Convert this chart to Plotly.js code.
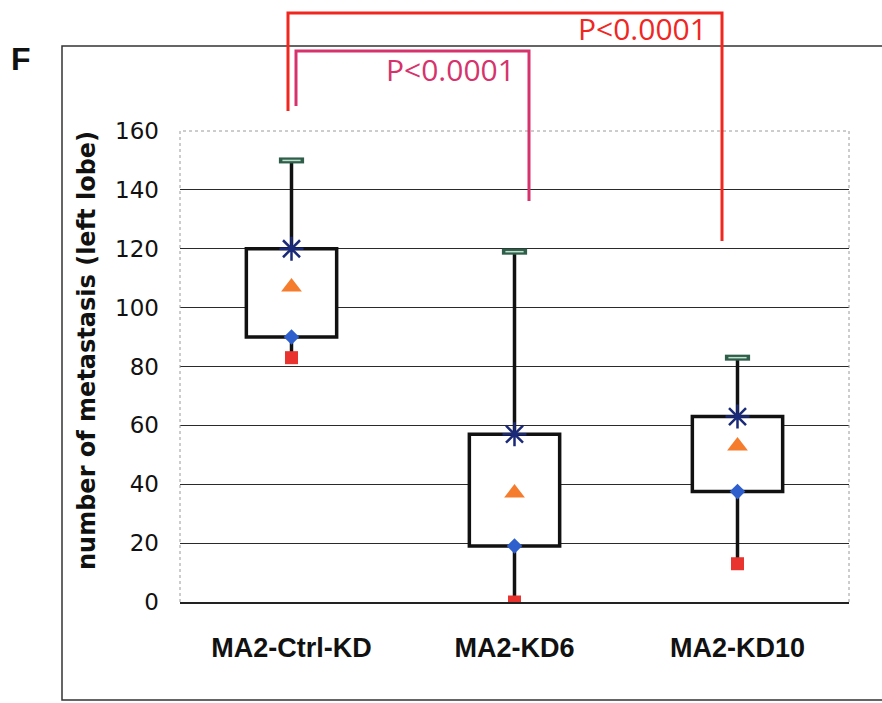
<!DOCTYPE html>
<html>
<head>
<meta charset="utf-8">
<script src="https://cdn.plot.ly/plotly-3.0.1.min.js"></script>
<style>html,body{margin:0;padding:0;background:#fff;}#chart{width:882px;height:703px;}</style>
</head>
<body>
<div id="chart"></div>
<script>
// ---- data ----
const categories = ["MA2-Ctrl-KD", "MA2-KD6", "MA2-KD10"];
const q1Values   = [90, 19, 37.5];
const q3Values   = [120, 57, 63];
const maxValues  = [150, 119, 83];
const minValues  = [83, 0, 13];
const meanValues = [107, 37, 53];
const yTickVals  = [0, 20, 40, 60, 80, 100, 120, 140, 160];
const pLabels    = ["P<0.0001", "P<0.0001"];

// ---- geometry helpers (pixel -> paper) ----
const W = 882, H = 703, L = 180, R = 849, T = 131, B = 602;
const px = v => (v - L) / (R - L);
const py = v => (B - v) / (B - T);

// whisker lines built from data
const wx = [], wy = [];
categories.forEach((c, i) => {
  wx.push(c, c, null, c, c, null);
  wy.push(q3Values[i], maxValues[i], null, q1Values[i], minValues[i], null);
});

const navy = "#1b2a78";
const traces = [
  { type: "bar", x: categories, y: q3Values.map((v, i) => v - q1Values[i]), base: q1Values,
    width: 0.405, marker: { color: "#ffffff", line: { color: "#111", width: 3.5 } },
    hoverinfo: "skip", showlegend: false },
  { type: "scatter", mode: "lines", x: wx, y: wy, line: { color: "#111", width: 3.5 },
    hoverinfo: "skip", showlegend: false },
  { type: "scatter", mode: "markers", x: categories, y: maxValues,
    marker: { symbol: "line-ew", size: 18, color: "#2f5e4a", line: { color: "#2f5e4a", width: 6 } }, showlegend: false },
  { type: "scatter", mode: "markers", x: categories, y: maxValues,
    marker: { symbol: "line-ew", size: 13, color: "#bfe0cc", line: { color: "#bfe0cc", width: 1.5 } }, showlegend: false },
  { type: "scatter", mode: "markers", x: categories, y: q3Values,
    marker: { symbol: "asterisk-open", size: 20, color: navy, line: { color: navy, width: 2.5 } }, showlegend: false },
  { type: "scatter", mode: "markers", x: categories, y: meanValues,
    marker: { symbol: "triangle-up", size: 18, color: "#f57c2c" }, showlegend: false },
  { type: "scatter", mode: "markers", x: categories, y: q1Values,
    marker: { symbol: "diamond", size: 12, color: "#2f5fcc" }, showlegend: false },
  { type: "scatter", mode: "markers", x: categories, y: minValues,
    marker: { symbol: "square", size: 13, color: "#e8332e" }, showlegend: false }
];

const red = "#f0261f", pink = "#d6336c";
const shapes = [
  // outer frame
  { type: "rect", xref: "paper", yref: "paper", x0: px(62), x1: px(900), y0: py(700), y1: py(46),
    line: { color: "#333", width: 1.5 }, layer: "below" },
  // cover top gridline, then dotted plot-area frame (left, top, right)
  { type: "line", xref: "paper", yref: "paper", x0: 0, x1: 1, y0: 1, y1: 1, line: { color: "#fff", width: 2 }, layer: "above" },
  { type: "path", xref: "paper", yref: "paper", path: "M 0 0 L 0 1 L 1 1 L 1 0",
    line: { color: "#9a9a9a", width: 1, dash: "dot" }, layer: "above" },
  // red bracket
  { type: "path", xref: "paper", yref: "paper",
    path: `M ${px(288)} ${py(111)} L ${px(288)} ${py(13)} L ${px(722)} ${py(13)} L ${px(722)} ${py(241)}`,
    line: { color: red, width: 3 }, layer: "above" },
  // pink bracket
  { type: "path", xref: "paper", yref: "paper",
    path: `M ${px(296)} ${py(106)} L ${px(296)} ${py(51)} L ${px(529)} ${py(51)} L ${px(529)} ${py(201)}`,
    line: { color: pink, width: 3 }, layer: "above" }
];

const annotations = [
  { text: "F", xref: "paper", yref: "paper", x: px(9), y: py(59), xanchor: "left", yanchor: "middle",
    showarrow: false, font: { family: "Liberation Sans", size: 32, weight: "bold", color: "#111" } },
  { text: "number of metastasis (left lobe)", xref: "paper", yref: "paper", x: px(87), y: py(351),
    xanchor: "center", yanchor: "middle", textangle: -90, showarrow: false,
    font: { family: "DejaVu Sans", size: 24, weight: "bold", color: "#111" } },
  { text: pLabels[0], xref: "paper", yref: "paper", x: px(709), y: py(28), xanchor: "right", yanchor: "middle",
    showarrow: false, font: { family: "Open Sans", size: 30, color: red } },
  { text: pLabels[1], xref: "paper", yref: "paper", x: px(517), y: py(69), xanchor: "right", yanchor: "middle",
    showarrow: false, font: { family: "Open Sans", size: 30, color: pink } }
];

const layout = {
  width: W, height: H,
  margin: { l: L, r: W - R, t: T, b: H - B, pad: 0 },
  paper_bgcolor: "#fff", plot_bgcolor: "#fff",
  showlegend: false,
  xaxis: {
    type: "category", categoryarray: categories, range: [-0.5, 2.5],
    showgrid: false, zeroline: false, showline: true, linecolor: "#222", linewidth: 1.5,
    ticks: "", ticklabelstandoff: 21,
    tickfont: { family: "Liberation Sans", size: 27, weight: "bold", color: "#111" }
  },
  yaxis: {
    range: [0, 160], tickvals: yTickVals, ticktext: yTickVals.map(String),
    showgrid: true, gridcolor: "#2a2a2a", gridwidth: 1, zeroline: false, showline: false,
    ticks: "", ticklabelstandoff: 20,
    tickfont: { family: "DejaVu Sans", size: 23, color: "#111" }
  },
  shapes: shapes,
  annotations: annotations
};

Plotly.newPlot("chart", traces, layout, { staticPlot: true, displayModeBar: false });
</script>
</body>
</html>
